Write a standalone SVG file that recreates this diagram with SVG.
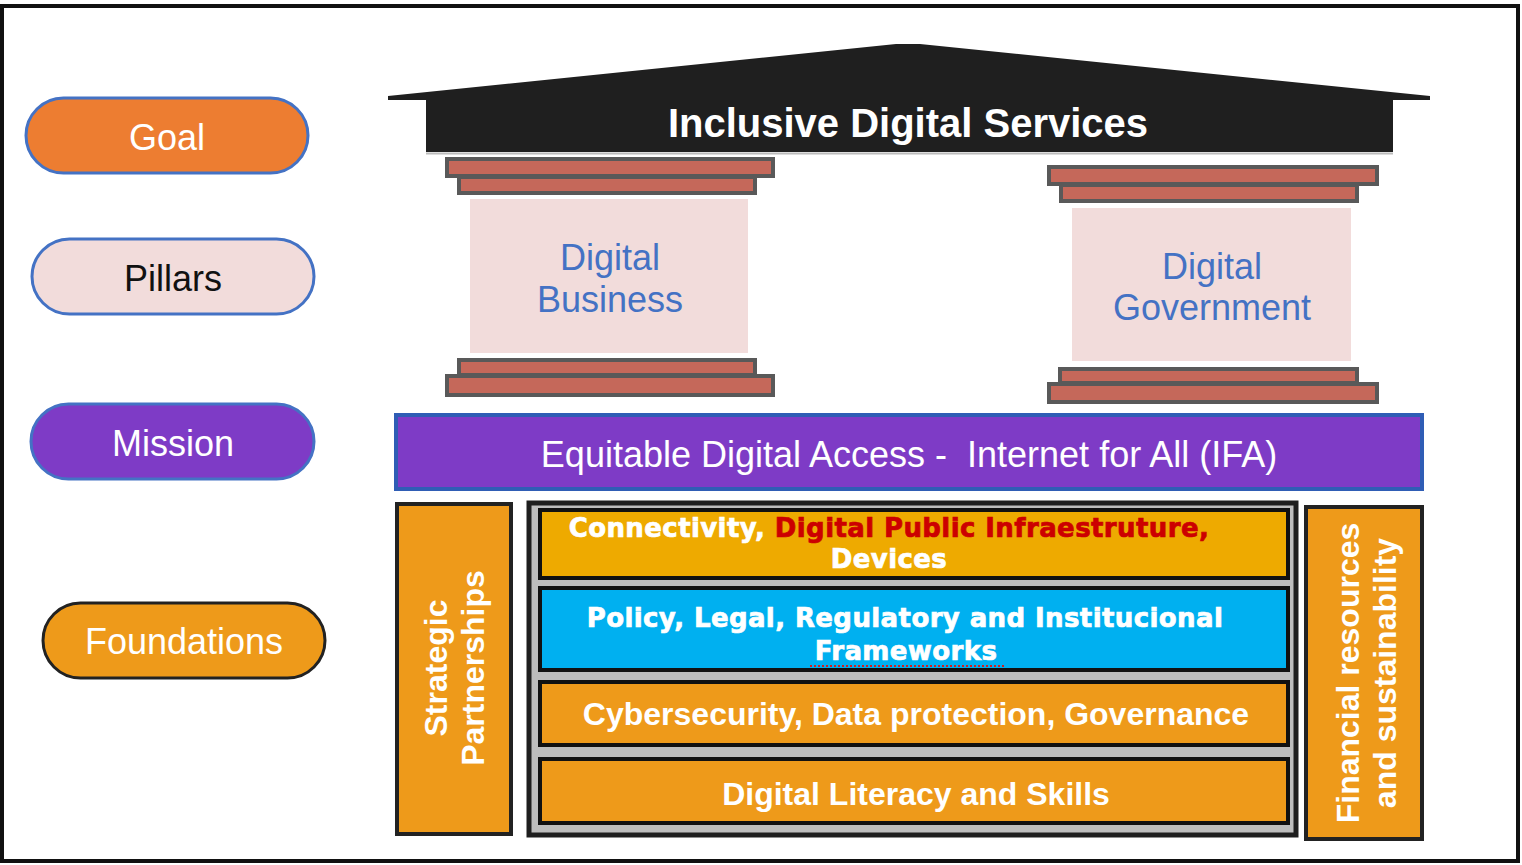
<svg xmlns="http://www.w3.org/2000/svg" width="1522" height="865" viewBox="0 0 1522 865">
<defs>
<style>
.pill{stroke:#4472C4;stroke-width:3}
.lbl{font-family:"Liberation Sans",Arial,sans-serif;font-size:36px;text-anchor:middle}
.slab{fill:#C5685A;stroke:#595959;stroke-width:4}
.shaft{fill:#F2DCDB}
.ptxt{font-family:"Liberation Sans",Arial,sans-serif;font-size:36px;fill:#4472C4;text-anchor:middle}
.bar{stroke:#111;stroke-width:4}
.wide{font-family:"DejaVu Sans",Verdana,sans-serif;font-weight:bold;font-size:26px;letter-spacing:0.4px;text-anchor:middle;fill:#fff;stroke:#fff;stroke-width:0.7px}
.bold{font-family:"Liberation Sans",Arial,sans-serif;font-weight:bold;font-size:32px;text-anchor:middle;fill:#fff}
.side{fill:#EE9A1A;stroke:#222;stroke-width:4}
</style>
</defs>
<rect x="2" y="6" width="1516" height="855" fill="#fff" stroke="#111" stroke-width="4"/>

<g id="goal">
<rect class="pill" x="26" y="98" width="282" height="75" rx="37.5" fill="#ED7D31"/>
<text class="lbl" x="167" y="150" fill="#fff">Goal</text>
</g>
<g id="pillars">
<rect class="pill" x="32" y="239" width="282" height="75" rx="37.5" fill="#F2DCDB"/>
<text class="lbl" x="173" y="291" fill="#111">Pillars</text>
</g>
<g id="mission">
<rect class="pill" x="31" y="404" width="283" height="75" rx="37.5" fill="#7E3BC6"/>
<text class="lbl" x="173" y="456" fill="#fff">Mission</text>
</g>
<g id="foundations">
<rect x="43" y="603" width="282" height="75" rx="37.5" fill="#EE9A1A" stroke="#222" stroke-width="3"/>
<text class="lbl" x="184" y="654" fill="#fff">Foundations</text>
</g>

<g id="roof">
<path d="M388,96 L896,44 L920,44 L1430,96 L1430,100 L1393,100 L1393,152 L426,152 L426,100 L388,100 Z" fill="#1F1F1F"/>
<line x1="426" y1="153.5" x2="1393" y2="153.5" stroke="#BBB" stroke-width="2"/>
<text x="908" y="137" font-family="Liberation Sans, Arial, sans-serif" font-weight="bold" font-size="40" fill="#fff" text-anchor="middle">Inclusive Digital Services</text>
</g>

<g id="pillar-business">
<rect class="slab" x="447" y="159" width="326" height="17"/>
<rect class="slab" x="459" y="177" width="296" height="16"/>
<rect class="shaft" x="470" y="199" width="278" height="154"/>
<text class="ptxt" x="610" y="270">Digital</text>
<text class="ptxt" x="610" y="312">Business</text>
<rect class="slab" x="459" y="360" width="296" height="15"/>
<rect class="slab" x="447" y="376" width="326" height="19"/>
</g>

<g id="pillar-government">
<rect class="slab" x="1049" y="167" width="328" height="17"/>
<rect class="slab" x="1061" y="185" width="296" height="16"/>
<rect class="shaft" x="1072" y="208" width="279" height="153"/>
<text class="ptxt" x="1212" y="279">Digital</text>
<text class="ptxt" x="1212" y="320">Government</text>
<rect class="slab" x="1060" y="369" width="297" height="14"/>
<rect class="slab" x="1049" y="384" width="328" height="18"/>
</g>

<g id="mission-bar">
<rect x="396" y="415" width="1026" height="74" fill="#7E3BC6" stroke="#2F5DB5" stroke-width="4"/>
<text x="909" y="467" xml:space="preserve" font-family="Liberation Sans, Arial, sans-serif" font-size="36" fill="#fff" text-anchor="middle">Equitable Digital Access -  Internet for All (IFA)</text>
</g>

<g id="strategic-partnerships">
<rect class="side" x="397" y="504" width="114" height="330"/>
<g transform="translate(466,668) rotate(-90)">
<text class="bold" x="0" y="-19">Strategic</text>
<text class="bold" x="0" y="18">Partnerships</text>
</g>
</g>

<g id="foundation-stack">
<rect x="529" y="503" width="767" height="332" fill="#BDBDBD" stroke="#1E1E1E" stroke-width="5"/>
</g>

<g id="connectivity">
<rect class="bar" x="540" y="510" width="748" height="68" fill="#EEAA00"/>
<text class="wide" x="889" y="537">Connectivity, <tspan fill="#CC0000" stroke="#CC0000">Digital Public Infraestruture,</tspan></text>
<text class="wide" x="889" y="568">Devices</text>
</g>

<g id="policy">
<rect class="bar" x="540" y="588" width="748" height="82" fill="#00B0F0"/>
<text class="wide" x="905" y="627">Policy, Legal, Regulatory and Institucional</text>
<text class="wide" x="906" y="660">Frameworks</text>
<line x1="810" y1="666" x2="1004" y2="666" stroke="#D02020" stroke-width="2" stroke-dasharray="2,2"/>
</g>

<g id="cybersecurity">
<rect class="bar" x="540" y="682" width="748" height="63" fill="#EE9A1A"/>
<text class="bold" x="916" y="725">Cybersecurity, Data protection, Governance</text>
</g>

<g id="literacy">
<rect class="bar" x="540" y="759" width="748" height="64" fill="#EE9A1A"/>
<text class="bold" x="916" y="805">Digital Literacy and Skills</text>
</g>

<g id="financial">
<rect class="side" x="1306" y="507" width="116" height="332"/>
<g transform="translate(1378,673) rotate(-90)">
<text class="bold" x="0" y="-19">Financial resources</text>
<text class="bold" x="0" y="18">and sustainability</text>
</g>
</g>

<g id="connectors"/>
</svg>
